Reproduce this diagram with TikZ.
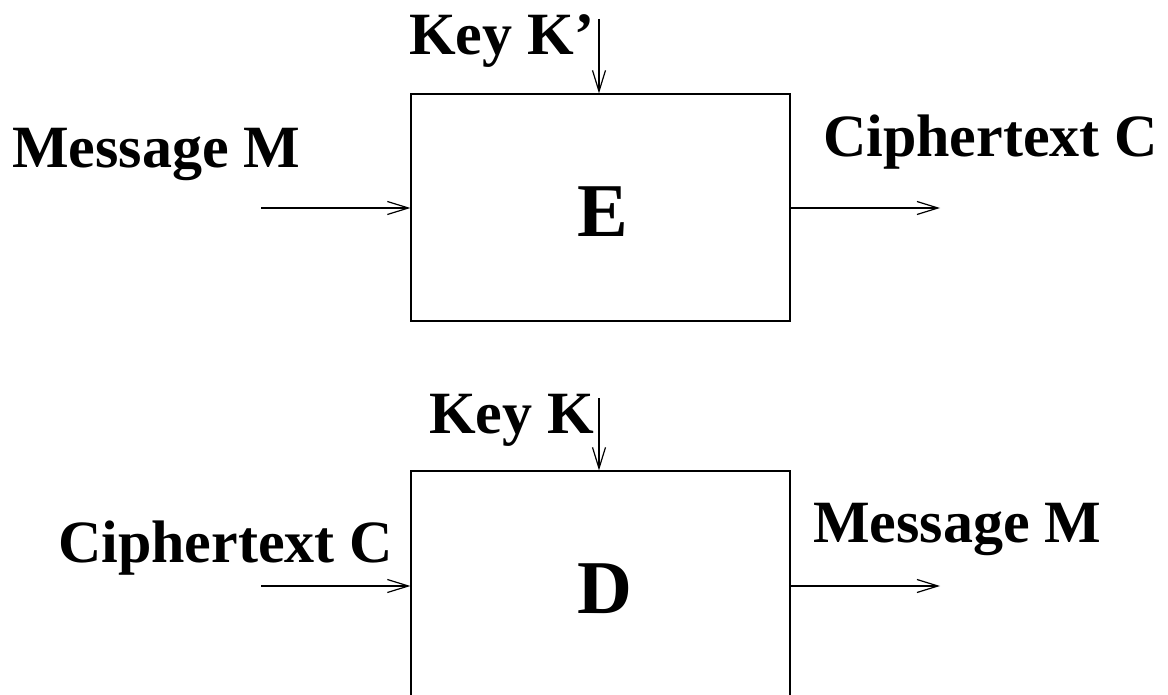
\documentclass[tikz,border=0pt]{standalone}
\usepackage{fontspec}
\setmainfont{Liberation Serif}
\usetikzlibrary{arrows.meta,calc,positioning}

\tikzset{
	blockbox/.style={draw, line width=1.2pt, minimum width=379pt, minimum height=227pt, inner sep=0pt},
	lbl/.style={inner sep=0pt, anchor=base west, font=\fontsize{60}{62}\selectfont\bfseries},
	big/.style={inner sep=0pt, anchor=base, font=\fontsize{76}{78}\selectfont\bfseries},
	flow/.style={line width=1.2pt, -{Straight Barb[length=21pt,width=13pt,line width=1.2pt]}},
}

\begin{document}
	\begin{tikzpicture}[x=1pt,y=-1pt]
		\useasboundingbox (0,0) rectangle (1168,695);
		\clip (0,0) rectangle (1168,695);
		% encryption
		\node[blockbox] at (600.5,207.5) (E) {};
		\node[big] at (603,237) (Elbl) {E};
		\coordinate (ein) at (261,208);
		\coordinate (eout) at (940,208);
		\coordinate (ekey) at (599,19);
		\node[lbl] at (12,168) (msg1) {Message M};
		\node[lbl] at (823,157) (ct1) {Ciphertext C};
		\node[lbl] at (409,55) (key1) {Key K'};
		\draw[flow] (ein) -- (ein -| E.west);
		\draw[flow] (eout -| E.east) -- (eout);
		\draw[flow] (ekey) -- (ekey |- E.north);
		%
		% decryption
		\node[blockbox] at (600.5,584.5) (D) {};
		\node[big] at (605,613) (Dlbl) {D};
		\coordinate (din) at (261,586);
		\coordinate (dout) at (940,586);
		\coordinate (dkey) at (599,398);
		\node[lbl] at (58,562) (ct2) {Ciphertext C};
		\node[lbl] at (813,542) (msg2) {Message M};
		\node[lbl] at (429,433) (key2) {Key K};
		\draw[flow] (din) -- (din -| D.west);
		\draw[flow] (dout -| D.east) -- (dout);
		\draw[flow] (dkey) -- (dkey |- D.north);
	\end{tikzpicture}
\end{document}
